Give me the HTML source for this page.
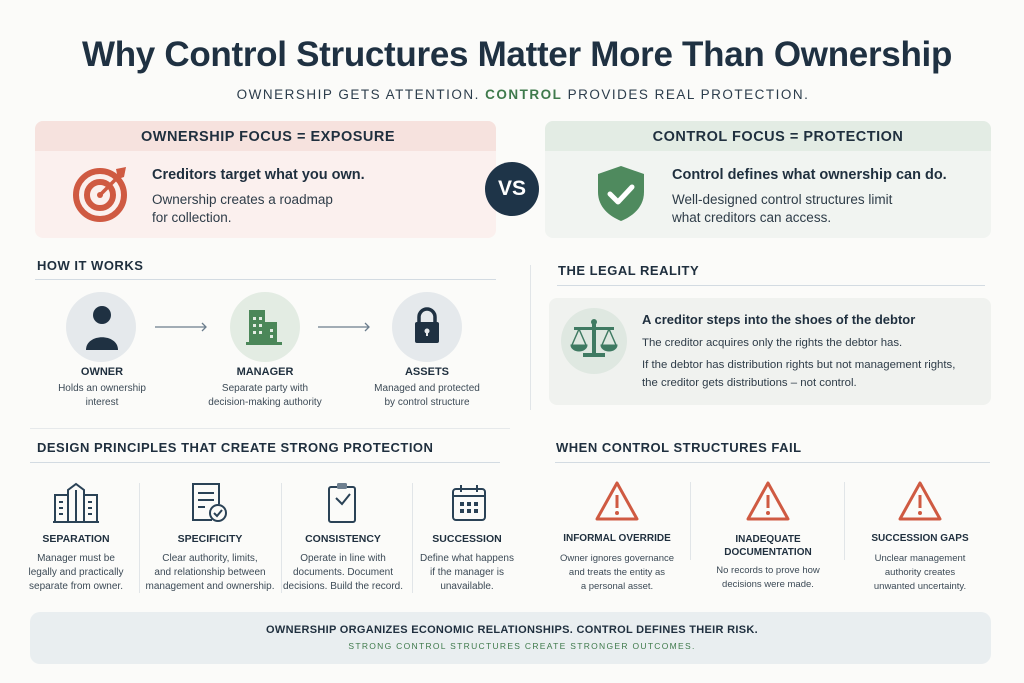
<!DOCTYPE html>
<html><head><meta charset="utf-8"><style>
*{margin:0;padding:0;box-sizing:border-box}
body{width:1024px;height:683px;background:#fbfbf9;font-family:"Liberation Sans",sans-serif;color:#1f2f3e;position:relative;overflow:hidden}
.a{position:absolute;white-space:nowrap}
.c{position:absolute;white-space:nowrap;transform:translateX(-50%);text-align:center}
.h{font-weight:bold;letter-spacing:0.5px;font-size:13px;color:#1f2f3e}
.d{font-size:10px;color:#3c4a56;line-height:14px}
.lbl{font-weight:bold;font-size:10.5px;color:#1f2f3e}
.line{position:absolute;height:1px;background:#d3dbe2}
.vl{position:absolute;width:1px;background:#e1e5e8}
</style></head><body>
<div class="c" style="left:517px;top:35px;font-size:35px;font-weight:bold;color:#1f3142;letter-spacing:-0.3px">Why Control Structures Matter More Than Ownership</div>
<div class="c" style="left:523px;top:87px;font-size:13.5px;letter-spacing:1.5px;color:#2c3d4c">OWNERSHIP GETS ATTENTION. <b style="color:#3f7a4c">CONTROL</b> PROVIDES REAL PROTECTION.</div>

<!-- left card -->
<div class="a" style="left:35px;top:121px;width:461px;height:117px;border-radius:8px;background:#fbf0ee;overflow:hidden">
<div style="height:30px;background:#f6e2de"></div></div>
<div class="c h" style="left:268px;top:129px;font-size:14.5px">OWNERSHIP FOCUS = EXPOSURE</div>
<svg class="a" style="left:72px;top:163px" width="60" height="60" viewBox="0 0 60 60"><circle cx="28" cy="32" r="24" fill="none" stroke="#cf5a42" stroke-width="6"/><circle cx="28" cy="32" r="13" fill="none" stroke="#cf5a42" stroke-width="6"/><circle cx="28" cy="32" r="3" fill="#cf5a42"/><line x1="28" y1="32" x2="48" y2="12" stroke="#cf5a42" stroke-width="3.5"/><path d="M44 6 L54 4 L52 14 L46 16Z" fill="#cf5a42"/></svg>
<div class="a" style="left:152px;top:167px;font-size:14.5px;font-weight:bold">Creditors target what you own.</div>
<div class="a" style="left:152px;top:191px;font-size:13.5px;line-height:18px;color:#2e3c48">Ownership creates a roadmap<br>for collection.</div>

<!-- VS -->
<div class="a" style="left:485px;top:162px;width:54px;height:54px;border-radius:50%;background:#1e3448;color:#fff;font-weight:bold;font-size:21px;text-align:center;line-height:54px">VS</div>

<!-- right card -->
<div class="a" style="left:545px;top:121px;width:446px;height:117px;border-radius:8px;background:#f1f4f1;overflow:hidden">
<div style="height:30px;background:#e3ece4"></div></div>
<div class="c h" style="left:778px;top:129px;font-size:14.5px">CONTROL FOCUS = PROTECTION</div>
<svg class="a" style="left:595px;top:164px" width="52" height="58" viewBox="0 0 52 58"><path d="M26 2 L49 10 L49 28 C49 43 38 52 26 57 C14 52 3 43 3 28 L3 10Z" fill="#4f8a5e"/><path d="M15 30 L23 38 L37 23" fill="none" stroke="#fff" stroke-width="5" stroke-linecap="round" stroke-linejoin="round"/></svg>
<div class="a" style="left:672px;top:167px;font-size:14.5px;font-weight:bold">Control defines what ownership can do.</div>
<div class="a" style="left:672px;top:191px;font-size:13.5px;line-height:18px;color:#2e3c48">Well-designed control structures limit<br>what creditors can access.</div>

<!-- how it works -->
<div class="a h" style="left:37px;top:258px">HOW IT WORKS</div>
<div class="line" style="left:35px;top:279px;width:461px"></div>
<div class="a" style="left:66px;top:292px;width:70px;height:70px;border-radius:50%;background:#e5e9ec"></div>
<svg class="a" style="left:84px;top:305px" width="36" height="46"><circle cx="18" cy="10" r="9" fill="#1f3142"/><path d="M2 45 C2 28 34 28 34 45Z" fill="#1f3142"/></svg>
<div class="a" style="left:230px;top:292px;width:70px;height:70px;border-radius:50%;background:#e3ece3"></div>
<svg class="a" style="left:245px;top:307px" width="40" height="40"><rect x="4" y="3" width="16" height="34" fill="#4b8759"/><rect x="20" y="15" width="12" height="22" fill="#4b8759"/><rect x="1" y="35" width="36" height="3" fill="#4b8759"/><g fill="#e3ece3"><rect x="8" y="10" width="3" height="3"/><rect x="14" y="10" width="3" height="3"/><rect x="8" y="17" width="3" height="3"/><rect x="14" y="17" width="3" height="3"/><rect x="8" y="24" width="3" height="3"/><rect x="14" y="24" width="3" height="3"/><rect x="25" y="22" width="3" height="3"/><rect x="25" y="28" width="3" height="3"/></g></svg>
<div class="a" style="left:392px;top:292px;width:70px;height:70px;border-radius:50%;background:#e5e9ec"></div>
<svg class="a" style="left:412px;top:307px" width="30" height="40"><path d="M7 16 V10 A8 8 0 0 1 23 10 V16" fill="none" stroke="#1f3142" stroke-width="3.5"/><rect x="3" y="15" width="24" height="21" rx="2" fill="#1f3142"/><circle cx="15" cy="24" r="2.5" fill="#e5e9ec"/><rect x="14" y="24" width="2" height="5" fill="#e5e9ec"/></svg>
<svg class="a" style="left:150px;top:320px" width="230" height="14"><g stroke="#6b7d8d" stroke-width="1.3" fill="none"><line x1="5" y1="7" x2="56" y2="7"/><path d="M52 3 L56 7 L52 11"/><line x1="168" y1="7" x2="219" y2="7"/><path d="M215 3 L219 7 L215 11"/></g></svg>
<div class="c lbl" style="left:102px;top:366px;font-size:11px">OWNER</div>
<div class="c d" style="left:102px;top:382px">Holds an ownership<br>interest</div>
<div class="c lbl" style="left:265px;top:366px;font-size:11px">MANAGER</div>
<div class="c d" style="left:265px;top:382px">Separate party with<br>decision-making authority</div>
<div class="c lbl" style="left:427px;top:366px;font-size:11px">ASSETS</div>
<div class="c d" style="left:427px;top:382px">Managed and protected<br>by control structure</div>

<div class="vl" style="left:530px;top:265px;height:145px"></div>

<!-- legal reality -->
<div class="a h" style="left:558px;top:263px">THE LEGAL REALITY</div>
<div class="line" style="left:557px;top:285px;width:428px"></div>
<div class="a" style="left:549px;top:298px;width:442px;height:107px;border-radius:8px;background:#f0f2ef"></div>
<div class="a" style="left:561px;top:308px;width:66px;height:66px;border-radius:50%;background:#dfe8e1"></div>
<svg class="a" style="left:570px;top:318px" width="48" height="46" viewBox="0 0 48 46"><g fill="#3f7a62" stroke="#3f7a62"><circle cx="24" cy="4" r="2.5"/><rect x="22" y="4" width="4" height="32" stroke="none"/><rect x="4" y="9" width="40" height="3" stroke="none"/><rect x="13" y="35" width="22" height="4" stroke="none"/><line x1="9" y1="11" x2="2" y2="27" stroke-width="1.5"/><line x1="9" y1="11" x2="16" y2="27" stroke-width="1.5"/><line x1="39" y1="11" x2="32" y2="27" stroke-width="1.5"/><line x1="39" y1="11" x2="46" y2="27" stroke-width="1.5"/><path d="M1 27 H17 A8 6 0 0 1 1 27Z"/><path d="M31 27 H47 A8 6 0 0 1 31 27Z"/></g></svg>
<div class="a" style="left:642px;top:312px;font-size:13px;font-weight:bold">A creditor steps into the shoes of the debtor</div>
<div class="a" style="left:642px;top:337px;font-size:11.4px;color:#2e3c48">The creditor acquires only the rights the debtor has.</div>
<div class="a" style="left:642px;top:356px;font-size:11.4px;line-height:18px;color:#2e3c48">If the debtor has distribution rights but not management rights,<br>the creditor gets distributions – not control.</div>

<div class="line" style="left:30px;top:428px;width:480px;background:#e6e9eb"></div>

<!-- design principles -->
<div class="a h" style="left:37px;top:440px">DESIGN PRINCIPLES THAT CREATE STRONG PROTECTION</div>
<div class="line" style="left:30px;top:462px;width:470px"></div>
<div class="vl" style="left:139px;top:483px;height:110px"></div>
<div class="vl" style="left:281px;top:483px;height:110px"></div>
<div class="vl" style="left:412px;top:483px;height:110px"></div>
<svg class="a" style="left:52px;top:482px" width="48" height="42" viewBox="0 0 48 42"><g fill="none" stroke="#2a4256" stroke-width="2"><rect x="3" y="13" width="13" height="27"/><rect x="32" y="13" width="13" height="27"/><path d="M16 40 V8 L24 2 L32 8 V40"/><line x1="24" y1="8" x2="24" y2="40"/><line x1="1" y1="40" x2="47" y2="40"/><line x1="7" y1="20" x2="11" y2="20"/><line x1="7" y1="26" x2="11" y2="26"/><line x1="7" y1="32" x2="11" y2="32"/><line x1="36" y1="20" x2="40" y2="20"/><line x1="36" y1="26" x2="40" y2="26"/><line x1="36" y1="32" x2="40" y2="32"/></g></svg>
<svg class="a" style="left:190px;top:482px" width="40" height="42"><g fill="none" stroke="#2a4256" stroke-width="2"><path d="M22 38 H3 V2 H29 V22"/><line x1="8" y1="11" x2="24" y2="11"/><line x1="8" y1="18" x2="24" y2="18"/><line x1="8" y1="25" x2="15" y2="25"/><circle cx="28" cy="31" r="8"/><path d="M24 31 L27 34 L32 28"/></g></svg>
<svg class="a" style="left:326px;top:481px" width="34" height="44"><g fill="none" stroke="#2a4256" stroke-width="2"><rect x="3" y="6" width="26" height="35" rx="2"/><path d="M10 17 L16 23 L24 13"/></g><rect x="11" y="2" width="10" height="6" rx="1.5" fill="#6f8090"/></svg>
<svg class="a" style="left:450px;top:483px" width="38" height="40"><g fill="none" stroke="#2a4256" stroke-width="2"><rect x="3" y="6" width="32" height="31" rx="3"/><line x1="3" y1="13" x2="35" y2="13"/><line x1="11" y1="2" x2="11" y2="9"/><line x1="27" y1="2" x2="27" y2="9"/></g><g fill="#2a4256"><rect x="10" y="19" width="4" height="4"/><rect x="17" y="19" width="4" height="4"/><rect x="24" y="19" width="4" height="4"/><rect x="10" y="26" width="4" height="4"/><rect x="17" y="26" width="4" height="4"/><rect x="24" y="26" width="4" height="4"/></g></svg>
<div class="c lbl" style="left:76px;top:533px">SEPARATION</div>
<div class="c d" style="left:76px;top:552px">Manager must be<br>legally and practically<br>separate from owner.</div>
<div class="c lbl" style="left:210px;top:533px">SPECIFICITY</div>
<div class="c d" style="left:210px;top:552px">Clear authority, limits,<br>and relationship between<br>management and ownership.</div>
<div class="c lbl" style="left:343px;top:533px">CONSISTENCY</div>
<div class="c d" style="left:343px;top:552px">Operate in line with<br>documents. Document<br>decisions. Build the record.</div>
<div class="c lbl" style="left:467px;top:533px">SUCCESSION</div>
<div class="c d" style="left:467px;top:552px">Define what happens<br>if the manager is<br>unavailable.</div>

<!-- when control fails -->
<div class="a h" style="left:556px;top:440px">WHEN CONTROL STRUCTURES FAIL</div>
<div class="line" style="left:555px;top:462px;width:435px"></div>
<div class="vl" style="left:690px;top:482px;height:78px"></div>
<div class="vl" style="left:844px;top:482px;height:78px"></div>
<svg class="a" style="left:594px;top:480px" width="46" height="44"><path d="M23 3 L43 39 H3Z" fill="none" stroke="#cf5a42" stroke-width="3" stroke-linejoin="round"/><line x1="23" y1="15" x2="23" y2="28" stroke="#cf5a42" stroke-width="3"/><circle cx="23" cy="33" r="2" fill="#cf5a42"/></svg>
<svg class="a" style="left:745px;top:480px" width="46" height="44"><path d="M23 3 L43 39 H3Z" fill="none" stroke="#cf5a42" stroke-width="3" stroke-linejoin="round"/><line x1="23" y1="15" x2="23" y2="28" stroke="#cf5a42" stroke-width="3"/><circle cx="23" cy="33" r="2" fill="#cf5a42"/></svg>
<svg class="a" style="left:897px;top:480px" width="46" height="44"><path d="M23 3 L43 39 H3Z" fill="none" stroke="#cf5a42" stroke-width="3" stroke-linejoin="round"/><line x1="23" y1="15" x2="23" y2="28" stroke="#cf5a42" stroke-width="3"/><circle cx="23" cy="33" r="2" fill="#cf5a42"/></svg>
<div class="c lbl" style="left:617px;top:533px;font-size:10px">INFORMAL OVERRIDE</div>
<div class="c d" style="left:617px;top:552px;font-size:9.5px">Owner ignores governance<br>and treats the entity as<br>a personal asset.</div>
<div class="c lbl" style="left:768px;top:533px;font-size:10px;line-height:13px">INADEQUATE<br>DOCUMENTATION</div>
<div class="c d" style="left:768px;top:564px;font-size:9.5px">No records to prove how<br>decisions were made.</div>
<div class="c lbl" style="left:920px;top:533px;font-size:10px">SUCCESSION GAPS</div>
<div class="c d" style="left:920px;top:552px;font-size:9.5px">Unclear management<br>authority creates<br>unwanted uncertainty.</div>

<!-- footer -->
<div class="a" style="left:30px;top:612px;width:961px;height:52px;border-radius:10px;background:#e9eef0"></div>
<div class="c" style="left:512px;top:624px;font-size:11px;font-weight:bold;letter-spacing:0.3px;color:#1f2f3e">OWNERSHIP ORGANIZES ECONOMIC RELATIONSHIPS. CONTROL DEFINES THEIR RISK.</div>
<div class="c" style="left:522px;top:641px;font-size:8.5px;letter-spacing:1.3px;color:#3f7a4c">STRONG CONTROL STRUCTURES CREATE STRONGER OUTCOMES.</div>
</body></html>
